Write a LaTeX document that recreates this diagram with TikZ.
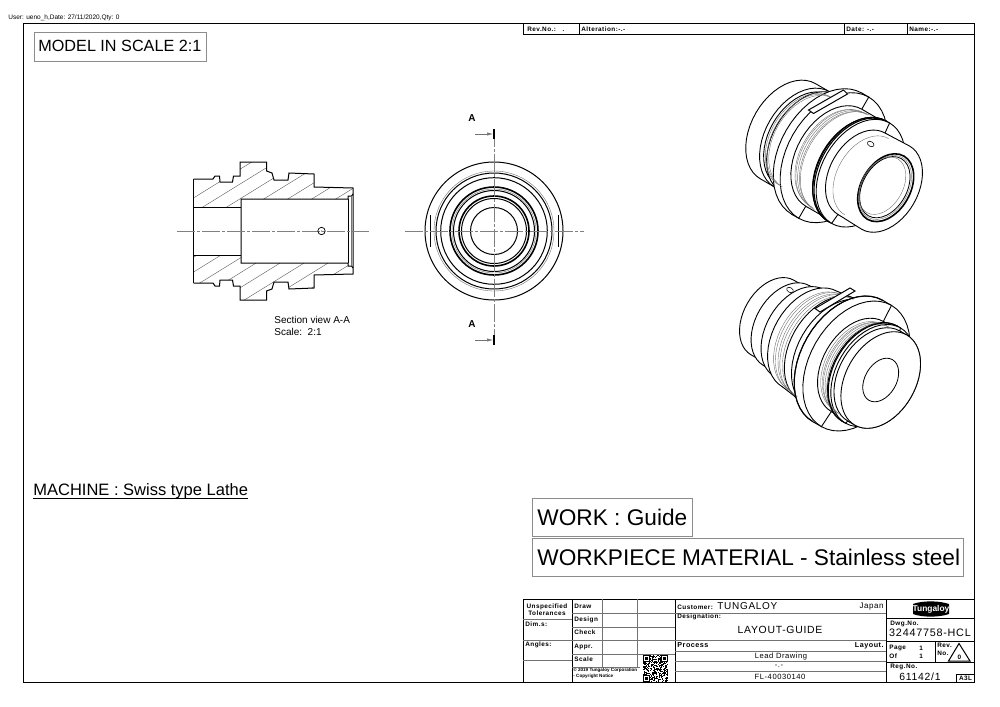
\documentclass[tikz,border=0pt]{standalone}
\usepackage{fontspec}
\setmainfont{Liberation Sans}
\newfontfamily\blockfont[LetterSpace=7]{Liberation Sans}
\usepackage{tikz}
\usetikzlibrary{arrows.meta}

% one step of the turned body, seen at an angle: x0 r0 x1 r1 in the view's own axes
\newcommand{\ringseg}[4]{%
	\filldraw[ringline] plot[domain=-90:-270,samples=25] ({#1+0.67*#2*cos(\x)},{#2*sin(\x)}) -- plot[domain=90:-90,samples=25] ({#3+0.67*#4*cos(\x)},{#4*sin(\x)}) -- cycle;
}
\newcommand{\ringarc}[2]{%
	\draw[greyline] plot[domain=-90:-270,samples=25] ({#1+0.67*#2*cos(\x)},{#2*sin(\x)});
}
\newcommand{\ringthick}[2]{%
	\draw[black, line width=0.55pt] plot[domain=-90:-270,samples=25] ({#1+0.67*#2*cos(\x)},{#2*sin(\x)});
}
\newcommand{\secsize}[1]{\fontsize{#1}{#1}\selectfont}

\tikzset{
	frameline/.style={black, line width=0.5pt},
	ringline/.style={black, fill=white, line width=0.45pt},
	greyline/.style={black!55, line width=0.2pt},
	hatchline/.style={black!65, line width=0.2pt},
	axisline/.style={black!50, line width=0.2pt, dash pattern=on 9pt off 1pt on 1.5pt off 1pt},
	boxline/.style={black!45, line width=0.4pt},
	gridline/.style={black!55, line width=0.3pt},
	sheettext/.style={inner sep=0pt, anchor=west, font=\secsize{8.1}},
	bigtext/.style={inner sep=0pt, anchor=west, font=\secsize{11.33}},
	viewtext/.style={inner sep=0pt, anchor=west, font=\secsize{5}},
	blocktext/.style={inner sep=0pt, anchor=west, font=\blockfont\bfseries\secsize{3.2}},
	blockvalue/.style={inner sep=0pt, font=\blockfont\secsize{#1}},
	blockstrong/.style={inner sep=0pt, font=\blockfont\bfseries\secsize{3.6}},
	cutarrow/.style={-{Latex[length=3pt, width=1.6pt]}, black!55, line width=0.25pt},
}

\begin{document}
\begin{tikzpicture}[x=0.5pt, y=-0.5pt]
	\useasboundingbox (0, 0) rectangle (1000, 706);

	% sheet frame
	\draw[frameline] (23.5, 24) rectangle (974, 682);
	\node[inner sep=0pt, anchor=west, font=\secsize{3.25}] (user) at (8, 18) {User: ueno\_h,Date: 27/11/2020,Qty: 0};

	% alteration strip
	\draw[frameline, fill=white] (523, 24) rectangle (974, 35);
	\draw[frameline] (579, 24) -- (579, 35) (844, 24) -- (844, 35) (907.5, 24) -- (907.5, 35);
	\node[blocktext] (revno) at (527, 29.5) {Rev.No.:\ \ \ .};
	\node[blocktext] (alteration) at (581, 29.5) {Alteration:-.-};
	\node[blocktext] (alterdate) at (846, 29.5) {Date: -.-};
	\node[blocktext] (altername) at (909, 29.5) {Name:-.-};

	% captions in boxes
	\draw[boxline] (34, 32) rectangle (206, 61);
	\node[sheettext] (model) at (38, 46) {MODEL IN SCALE 2:1};
	\node[sheettext, anchor=base west, font=\secsize{8.25}] (machine) at (33, 495.5) {\underline{\smash{MACHINE : Swiss type Lathe}}};
	\draw[boxline] (532, 498) rectangle (692, 536);
	\node[bigtext] (work) at (537, 517.5) {WORK : Guide};
	\draw[boxline] (532, 538) rectangle (963, 576);
	\node[bigtext] (material) at (537, 557.5) {WORKPIECE MATERIAL - Stainless steel};

	% section A-A
	\def\secouter{(193.5, -52) -- (213, -52) -- (215, -55) -- (219.5, -55) -- (220, -49) -- (232.5, -49) -- (233.5, -55) -- (240, -55) -- (240, -69) -- (266.5, -69) -- (266.5, -60) -- (272, -58) -- (274, -51) -- (288, -51) -- (289, -58) -- (314, -57) -- (314, -44) -- (353, -43) -- (353, 0)}
	\begin{scope}[shift={(0, 231)}]
		\foreach \s in {1, -1} {
			\begin{scope}[yscale=\s]
				\begin{scope}
					\clip \secouter -- (353, -37) -- (351.5, -35) -- (348, -35) -- (348, -32) -- (241, -32) -- (241, -24) -- (193.5, -24) -- cycle;
					\foreach \i in {140, 164, ..., 460} {
						\draw[hatchline] (\i, 0) -- ++(170*\s, -105);
					}
				\end{scope}
				\draw[frameline] \secouter;
				\draw[frameline] (193.5, -52) -- (193.5, 0);
				\draw[frameline] (193.5, -24) -- (241, -24);
				\draw[frameline] (241, 0) -- (241, -32) -- (348, -32) -- (348, -35) -- (351.5, -35) -- (353, -37);
				\draw[frameline] (348, 0) -- (348, -32);
				\draw[greyline] (351.5, 0) -- (351.5, -35);
			\end{scope}
		}
		\draw[axisline] (177, 0) -- (369, 0);
		\draw[frameline, line width=0.35pt] (321.5, 0) circle (3.7);
		\fill (321.5, 0) circle (0.5);
	\end{scope}
	\node[viewtext] (sectitle) at (274, 320) {Section view A-A};
	\node[viewtext] (secscale) at (274, 332) {Scale:\ \ 2:1};

	% end view
	\draw[frameline] (494, 231) circle (69);
	\draw[greyline] (494, 231) circle (60);
	\draw[frameline] (494, 231) circle (58);
	\draw[frameline] (494, 231) circle (53.3);
	\draw[frameline, line width=0.8pt] (494, 231) circle (44);
	\draw[greyline] (494, 231) circle (42);
	\draw[frameline] (494, 231) circle (40.5);
	\draw[frameline, line width=0.8pt] (494, 231) circle (35);
	\draw[frameline] (494, 231) circle (32.5);
	\draw[frameline] (494, 231) circle (23.5);
	\draw[frameline] (430, 215) -- (430, 247) (558, 215) -- (558, 247);
	\draw[axisline] (405, 231) -- (584, 231);
	\draw[axisline] (494, 129) -- (494, 345);
	\draw[black, line width=1pt] (494, 129) -- (494, 139);
	\draw[black, line width=1pt] (494, 335) -- (494, 345);
	\coordinate (cuttop) at (493, 134);
	\coordinate (cutbot) at (493, 340);
	\draw[cutarrow] (475, 134) -- (cuttop);
	\draw[cutarrow] (475, 340) -- (cutbot);
	\node[inner sep=0pt, font=\bfseries\secsize{5}] (cutlabeltop) at (472, 118) {A};
	\node[inner sep=0pt, font=\bfseries\secsize{5}] (cutlabelbot) at (472, 324) {A};

	% view from the bore end
	\begin{scope}[shift={(885.7, 187.7)}, rotate=-30]
		\foreach \xa/\ra/\xb/\rb in {-113/55/-97/55, -97/55/-95/52, -95/52/-88/52, -88/52/-88/56, -88/56/-68/57, -68/57/-68/70, -68/70/-60/70, -60/70/-60/56, -60/56/-35/56, -35/56/-33/58, -33/58/-29/58, -29/58/-28/47, -28/47/0/48} {
			\ringseg{\xa}{\ra}{\xb}{\rb}
		}
		\foreach \xa/\ra in {-94/51, -92/51, -90/51, -58/53, -56/54, -54/54, -52/54, -50/55, -22/44} {
			\ringarc{\xa}{\ra}
		}
		\ringthick{-33}{58}
		\ringthick{-31.5}{58}
		\draw[black, fill=white, line width=0.8pt] (0, 0) circle[x radius=24.5, y radius=36.5];
		\draw[greyline] (-0.5, 0) circle[x radius=23, y radius=34.5];
		\draw[black, line width=0.4pt] (-1, 0) circle[x radius=22, y radius=33];
		\draw[greyline] (-4, 0) circle[x radius=20.5, y radius=31];
	\end{scope}
	\draw[frameline, fill=white] (808.5, 110) -- (843.5, 90) -- (847.5, 94) -- (813.5, 113.5) -- cycle;
	\draw[frameline, line width=0.3pt, rotate around={-30:(870.7, 144)}] (870.7, 144) circle[x radius=3.6, y radius=2.4];

	% view from the closed end
	\begin{scope}[shift={(880.7, 380)}, rotate=-30]
		\foreach \xa/\ra/\xb/\rb in {-125/43/-109/43, -109/43/-109/46, -109/46/-94/46, -94/46/-94/50, -94/50/-82/50, -82/50/-82/55, -82/55/-60/58, -60/58/-50/60, -50/60/-40/62, -40/62/-38/70, -38/70/-28/70, -28/70/-27/52, -27/52/-14/52, -14/52/-13/55, -13/55/-9/55, -9/55/-8/52, -8/52/0/52} {
			\ringseg{\xa}{\ra}{\xb}{\rb}
		}
		\foreach \xa/\ra in {-76/54, -73/55, -70/55, -67/56, -64/56, -26/49, -24/49, -22/50, -20/50, -18/50} {
			\ringarc{\xa}{\ra}
		}
		\ringthick{-38}{70}
		\ringthick{-12}{55}
		\draw[black, fill=white, line width=0.45pt] (0, 0) circle[x radius=34.8, y radius=52];
		\draw[black, line width=0.4pt] (0, 0) circle[x radius=15.7, y radius=23.5];
	\end{scope}
	\draw[frameline, fill=white] (815, 308.5) -- (850, 288) -- (855, 291) -- (820, 312) -- cycle;
	\draw[frameline, line width=0.3pt, rotate around={-30:(790, 290)}] (790, 290) circle[x radius=3.6, y radius=2.4];

	% title block
	\draw[frameline, fill=white] (523, 599) rectangle (974, 682);
	\draw[frameline] (572, 599) -- (572, 682) (675, 599) -- (675, 682) (886, 599) -- (886, 682);
	\draw[gridline] (523, 619) -- (572, 619) (523, 640.5) -- (572, 640.5) (523, 660.5) -- (572, 660.5);
	\draw[gridline] (572, 613) -- (675, 613) (572, 627) -- (675, 627) (572, 640.5) -- (675, 640.5) (572, 654) -- (675, 654) (572, 667) -- (640, 667);
	\draw[gridline] (602, 599) -- (602, 667) (637, 599) -- (637, 667);
	\draw[gridline] (675, 613) -- (886, 613) (675, 640.5) -- (886, 640.5) (675, 651.5) -- (886, 651.5) (675, 661) -- (886, 661) (675, 671) -- (886, 671);
	\draw[frameline] (886, 618.5) -- (974, 618.5) (886, 641.5) -- (974, 641.5) (886, 662.5) -- (974, 662.5) (935.5, 641.5) -- (935.5, 662.5);
	\draw[frameline] (956.5, 682) |- (974, 674.5);
	\draw[frameline] (948.5, 661) -- (959, 643.5) -- (970, 661) -- cycle;

	\node[blocktext, anchor=center, align=center, font=\blockfont\bfseries\fontsize{3.2}{3.3}\selectfont] (tolerance) at (547, 609.5) {Unspecified\\Tolerances};
	\node[blocktext] (dims) at (525, 624) {Dim.s:};
	\node[blocktext] (angles) at (525, 645) {Angles:};
	\node[blocktext] (draw) at (574, 606.5) {Draw};
	\node[blocktext] (design) at (574, 619.5) {Design};
	\node[blocktext] (check) at (574, 632.5) {Check};
	\node[blocktext] (appr) at (574, 647) {Appr.};
	\node[blocktext] (scale) at (574, 659.5) {Scale};
	\node[inner sep=0pt, anchor=west, align=left, font=\bfseries\fontsize{2.3}{3}\selectfont] (copyright) at (573, 673.5) {© 2019 Tungaloy Corporation\\- Copyright Notice};

	\node[blocktext] (customer) at (677, 607) {Customer:};
	\node[blockvalue=5, anchor=west] (custname) at (717, 606.5) {TUNGALOY};
	\node[blockvalue=4, anchor=east] (country) at (884, 606.5) {Japan};
	\node[blocktext] (designation) at (677, 616.5) {Designation:};
	\node[blockvalue=5.2] (layoutguide) at (780, 630) {LAYOUT-GUIDE};
	\node[blockstrong, anchor=west] (process) at (677, 645.5) {Process};
	\node[blockstrong, anchor=east] (layout) at (884, 645.5) {Layout.};
	\node[blockvalue=3.8] (lead) at (781, 656.5) {Lead Drawing};
	\node[blockvalue=3.8] (dashes) at (779, 666.5) {-.-};
	\node[blockvalue=3.8] (flnumber) at (780, 677) {FL-40030140};

	\node[blocktext] (dwgno) at (890, 624) {Dwg.No.};
	\node[blockvalue=5.4] (dwgvalue) at (930, 633) {32447758-HCL};
	\node[blocktext] (page) at (889, 648) {Page};
	\node[blocktext] (pagenum) at (919, 648) {1};
	\node[blocktext] (of) at (889, 656) {Of};
	\node[blocktext] (ofnum) at (919, 656) {1};
	\node[blocktext] (rev) at (937, 645.5) {Rev.};
	\node[blocktext] (revnum) at (937, 653) {No.};
	\node[blocktext, anchor=center] (zero) at (959.5, 657) {0};
	\node[blocktext] (regno) at (890, 667) {Reg.No.};
	\node[blockvalue=5.2] (regvalue) at (920, 677) {61142/1};
	\node[blocktext, anchor=center] (sizecode) at (965.5, 678.5) {A3L};

	% logo
	\fill[black] (913, 604) .. controls (922, 600.5) and (939, 600.5) .. (949, 604) -- (949, 614) .. controls (939, 617.5) and (922, 617.5) .. (913, 614) -- cycle;
	\node[inner sep=0pt, text=white, font=\bfseries\secsize{4.2}] (logo) at (931, 609) {Tungaloy};

	% qr code
	\pgfmathsetseed{11}
	\foreach \i in {0, ..., 24} {
		\foreach \j in {0, ..., 26} {
			\pgfmathparse{rnd < 0.5 ? 1 : 0}
			\ifnum\pgfmathresult=1
				\fill[black] (643 + \i, 655 + \j) rectangle ++(1, 1);
			\fi
		}
	}
	\foreach \qx/\qy in {643/655, 661/655, 643/675} {
		\draw[black, fill=white, line width=0.5pt] (\qx + 0.5, \qy + 0.5) rectangle ++(6, 6);
		\fill[black] (\qx + 2, \qy + 2) rectangle ++(3, 3);
	}
\end{tikzpicture}
\end{document}
